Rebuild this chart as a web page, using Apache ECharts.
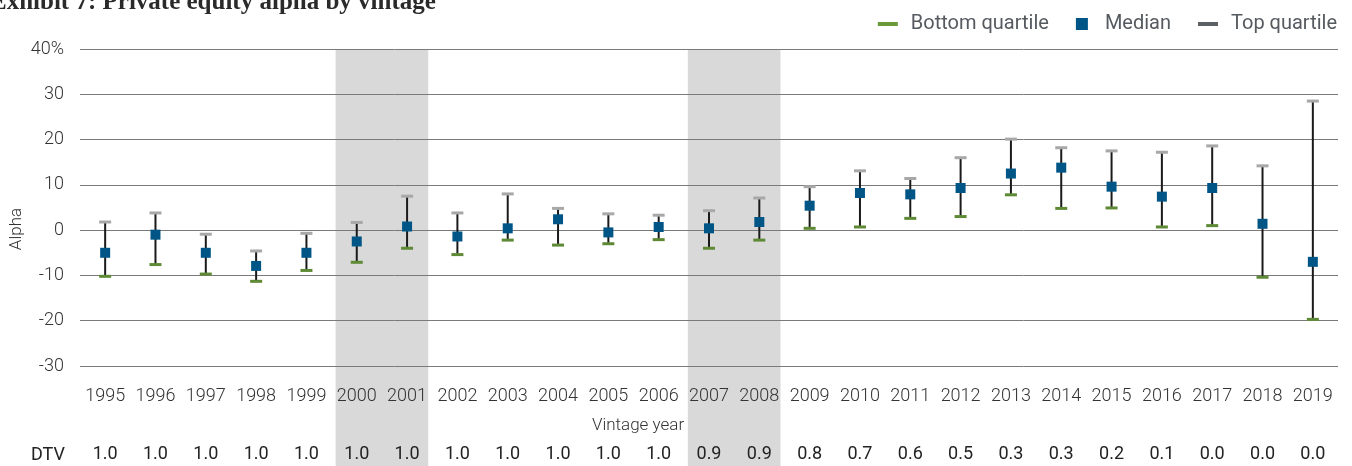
<!DOCTYPE html>
<html>
<head>
<meta charset="utf-8">
<script src="https://cdn.jsdelivr.net/npm/echarts@6/dist/echarts.min.js"></script>
<style>
html,body{margin:0;padding:0;background:#fff;}
#chart{width:1352px;height:466px;}
</style>
</head>
<body>
<div id="chart"></div>
<script>
const years = ['1995','1996','1997','1998','1999','2000','2001','2002','2003','2004','2005','2006','2007','2008','2009','2010','2011','2012','2013','2014','2015','2016','2017','2018','2019'];
const topQuartile = [1.8, 3.8, -0.9, -4.6, -0.7, 1.7, 7.5, 3.8, 8.0, 4.8, 3.6, 3.3, 4.3, 7.1, 9.6, 13.1, 11.4, 16.0, 20.1, 18.2, 17.5, 17.2, 18.6, 14.2, 28.5];
const median = [-5.0, -1.0, -5.0, -7.9, -5.0, -2.5, 0.8, -1.4, 0.4, 2.4, -0.5, 0.7, 0.4, 1.8, 5.4, 8.2, 7.9, 9.3, 12.5, 13.8, 9.6, 7.4, 9.3, 1.4, -7.0];
const bottomQuartile = [-10.2, -7.6, -9.7, -11.3, -8.9, -7.1, -4.0, -5.4, -2.2, -3.3, -3.0, -2.1, -4.0, -2.2, 0.4, 0.7, 2.6, 3.0, 7.8, 4.8, 4.9, 0.7, 1.0, -10.4, -19.7];
const dtv = ['1.0','1.0','1.0','1.0','1.0','1.0','1.0','1.0','1.0','1.0','1.0','1.0','0.9','0.9','0.8','0.7','0.6','0.5','0.3','0.3','0.2','0.1','0.0','0.0','0.0'];
const shadedPeriods = [['2000','2001'], ['2007','2008']];

const LBL = 'Roboto, sans-serif';
const chart = echarts.init(document.getElementById('chart'), null, {renderer: 'canvas'});

const bandData = shadedPeriods.map(p => [years.indexOf(p[0]), years.indexOf(p[1])]);
const whiskerData = years.map((y, i) => [i, bottomQuartile[i], topQuartile[i]]);
const bottomData = years.map((y, i) => [i, bottomQuartile[i]]);
const topData = years.map((y, i) => [i, topQuartile[i]]);
const medianData = years.map((y, i) => [i, median[i]]);

function capRender(color) {
  return function (params, api) {
    const p = api.coord([api.value(0), api.value(1)]);
    return {type: 'rect', shape: {x: p[0] - 6, y: p[1] - 1.5, width: 12, height: 3}, style: {fill: color}};
  };
}

const option = {
  animation: false,
  grid: {left: 80, right: 14, top: 49, bottom: 100, containLabel: false},
  legend: {
    top: 9, right: 10, itemWidth: 20, itemHeight: 12, itemGap: 27,
    textStyle: {fontFamily: 'Roboto', fontSize: 20, color: '#555a60', padding: [0, 0, 0, 8]},
    data: [
      {name: 'Bottom quartile', icon: 'path://M0,0h20v4h-20z', itemStyle: {color: '#6b9a3b'}},
      {name: 'Median', icon: 'path://M0,0h12v12h-12z', itemStyle: {color: '#005587'}},
      {name: 'Top quartile', icon: 'path://M0,0h20v4h-20z', itemStyle: {color: '#5c6168'}}
    ]
  },
  xAxis: [
    {
      type: 'category', data: years, position: 'bottom',
      axisLine: {show: false}, axisTick: {show: false},
      axisLabel: {interval: 0, fontFamily: LBL, fontWeight: 300, fontSize: 18, color: '#333', margin: 21}
    },
    {
      type: 'category', data: years, position: 'bottom', offset: 58,
      axisLine: {show: false}, axisTick: {show: false},
      axisLabel: {interval: 0, fontFamily: LBL, fontWeight: 400, fontSize: 18, color: '#222', margin: 21,
        formatter: (v, i) => dtv[i]}
    }
  ],
  yAxis: {
    type: 'value', min: -30, max: 40, interval: 10,
    axisLine: {show: false}, axisTick: {show: false},
    axisLabel: {fontFamily: LBL, fontWeight: 300, fontSize: 18, color: '#333', margin: 16,
      formatter: v => (v === 40 ? '40%' : String(v))},
    splitLine: {lineStyle: {color: '#7a7a7a', width: 1}}
  },
  graphic: [
    {type: 'text', left: -10, top: -10, z: 100,
      style: {text: 'Exhibit 7: Private equity alpha by vintage', font: 'bold 25px "Liberation Serif", serif', fill: '#2a2a2a'}},
    {type: 'text', x: 17, y: 229, rotation: Math.PI / 2, z: 100,
      style: {text: 'Alpha', font: '300 17px ' + LBL, fill: '#333', align: 'center', verticalAlign: 'middle'}},
    {type: 'text', x: 638, y: 426, z: 100,
      style: {text: 'Vintage year', font: '300 17px ' + LBL, fill: '#333', align: 'center', verticalAlign: 'middle'}},
    {type: 'text', x: 48, y: 455, z: 100,
      style: {text: 'DTV', font: '18px ' + LBL, fill: '#222', align: 'center', verticalAlign: 'middle'}}
  ],
  series: [
    {
      type: 'custom', silent: true, z: -5, clip: false, xAxisIndex: 0,
      data: bandData,
      renderItem: function (params, api) {
        const a = api.coord([api.value(0), 40]);
        const b = api.coord([api.value(1), 40]);
        const w = api.size([1, 0])[0];
        return {type: 'rect', shape: {x: a[0] - w / 2 + 4, y: a[1] + 1, width: (b[0] - a[0]) + w - 8, height: api.getHeight() - a[1]},
          style: {fill: '#d9d9d9'}};
      }
    },
    {
      type: 'custom', silent: true, z: 3, xAxisIndex: 0,
      data: whiskerData,
      renderItem: function (params, api) {
        const lo = api.coord([api.value(0), api.value(1)]);
        const hi = api.coord([api.value(0), api.value(2)]);
        return {type: 'line', shape: {x1: lo[0], y1: lo[1], x2: hi[0], y2: hi[1]}, style: {stroke: '#1a1a1a', lineWidth: 2}};
      }
    },
    {name: 'Bottom quartile', type: 'custom', z: 4, data: bottomData, itemStyle: {color: '#6b9a3b'}, renderItem: capRender('#5f8a35')},
    {name: 'Top quartile', type: 'custom', z: 4, data: topData, itemStyle: {color: '#5c6168'}, renderItem: capRender('#a8a8a8')},
    {name: 'Median', type: 'scatter', z: 6, data: medianData, symbol: 'rect', symbolSize: 10, itemStyle: {color: '#005587', opacity: 1}}
  ]
};
chart.setOption(option);
</script>
</body>
</html>
